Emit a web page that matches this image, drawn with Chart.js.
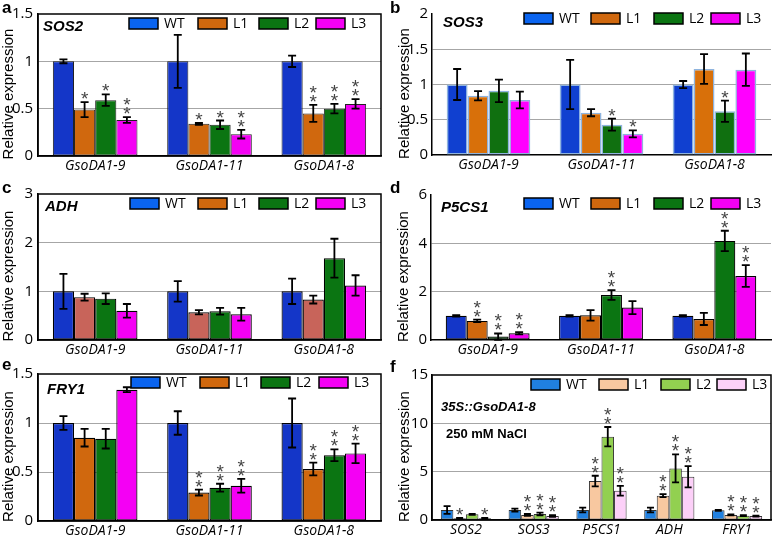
<!DOCTYPE html>
<html>
<head>
<meta charset="utf-8">
<script src="https://cdn.jsdelivr.net/npm/chart.js@4.4.1/dist/chart.umd.min.js"></script>
<style>
  body { margin: 0; background: #fff; }
  #fig { position: relative; width: 778px; height: 537px; overflow: hidden; }
  canvas { position: absolute; }
</style>
</head>
<body>
<div id="fig">
  <canvas id="pa"></canvas>
  <canvas id="pb"></canvas>
  <canvas id="pc"></canvas>
  <canvas id="pd"></canvas>
  <canvas id="pe"></canvas>
  <canvas id="pf"></canvas>
</div>
<script>
const lines = ['WT', 'L1', 'L2', 'L3'];
const transgenics = ['GsoDA1-9', 'GsoDA1-11', 'GsoDA1-8'];
const saltGenes = ['SOS2', 'SOS3', 'P5CS1', 'ADH', 'FRY1'];

// rows: WT, L1, L2, L3 -- columns: categories
const sos2Mean = [[1.00, 1.00, 1.00], [0.49, 0.34, 0.45], [0.59, 0.33, 0.50], [0.38, 0.23, 0.55]];
const sos2Err = [[0.02, 0.28, 0.06], [0.08, 0.01, 0.09], [0.06, 0.045, 0.05], [0.03, 0.045, 0.05]];
const sos2Stars = [[0, 0, 0], [1, 1, 2], [1, 1, 2], [2, 2, 2]];

const sos3Mean = [[1.00, 1.00, 1.00], [0.84, 0.60, 1.22], [0.91, 0.43, 0.62], [0.78, 0.30, 1.21]];
const sos3Err = [[0.22, 0.35, 0.05], [0.065, 0.05, 0.21], [0.16, 0.085, 0.15], [0.12, 0.05, 0.23]];
const sos3Stars = [[0, 0, 0], [0, 0, 0], [0, 1, 1], [0, 1, 0]];

const adhMean = [[1.00, 1.00, 1.00], [0.88, 0.57, 0.83], [0.85, 0.59, 1.68], [0.60, 0.53, 1.12]];
const adhErr = [[0.36, 0.21, 0.26], [0.07, 0.045, 0.08], [0.11, 0.07, 0.40], [0.14, 0.13, 0.21]];
const adhStars = [[0, 0, 0], [0, 0, 0], [0, 0, 0], [0, 0, 0]];

const p5cs1Mean = [[1.00, 1.00, 1.00], [0.79, 1.02, 0.87], [0.14, 1.86, 4.10], [0.28, 1.34, 2.65]];
const p5cs1Err = [[0.03, 0.03, 0.03], [0.05, 0.22, 0.25], [0.13, 0.20, 0.42], [0.05, 0.27, 0.45]];
const p5cs1Stars = [[0, 0, 0], [2, 0, 0], [2, 2, 2], [2, 0, 2]];

const fry1Mean = [[1.00, 1.00, 1.00], [0.85, 0.29, 0.53], [0.84, 0.34, 0.67], [1.34, 0.36, 0.69]];
const fry1Err = [[0.07, 0.12, 0.25], [0.09, 0.03, 0.065], [0.10, 0.04, 0.06], [0.025, 0.07, 0.10]];
const fry1Stars = [[0, 0, 0], [0, 2, 2], [0, 2, 2], [0, 2, 2]];

const saltMean = [[1.03, 1.03, 1.03, 1.03, 1.00], [0.17, 0.52, 4.03, 2.52, 0.52], [0.59, 0.62, 8.62, 5.34, 0.45], [0.17, 0.41, 3.03, 4.48, 0.41]];
const saltErr = [[0.40, 0.15, 0.25, 0.25, 0.05], [0.05, 0.10, 0.55, 0.15, 0.05], [0.05, 0.15, 1.00, 1.45, 0.05], [0.05, 0.08, 0.50, 1.10, 0.05]];
const saltStars = [[0, 0, 0, 0, 0], [1, 2, 2, 2, 2], [0, 2, 2, 2, 2], [1, 2, 2, 2, 2]];

const FONT = "'Open Sans', sans-serif";
const ARIAL = "'Liberation Sans', Arial, sans-serif";

// draws error bars, asterisks, frame, legend, titles
const decorations = {
  id: 'decorations',
  afterDatasetsDraw(chart, args, o) {
    const ctx = chart.ctx, y = chart.scales.y;
    ctx.save();
    ctx.strokeStyle = '#000';
    ctx.lineWidth = 1.8;
    chart.data.datasets.forEach((ds, i) => {
      chart.getDatasetMeta(i).data.forEach((bar, j) => {
        const v = ds.data[j], e = o.err[i][j];
        const top = y.getPixelForValue(v + e);
        const bot = y.getPixelForValue(Math.max(v - e, 0));
        const c = o.cap;
        ctx.beginPath();
        ctx.moveTo(bar.x, top); ctx.lineTo(bar.x, bot);
        ctx.moveTo(bar.x - c, top); ctx.lineTo(bar.x + c, top);
        ctx.moveTo(bar.x - c, bot); ctx.lineTo(bar.x + c, bot);
        ctx.stroke();
        ctx.fillStyle = '#444';
        ctx.font = '19px ' + ARIAL;
        ctx.textAlign = 'center';
        ctx.textBaseline = 'alphabetic';
        for (let k = 0; k < o.stars[i][j]; k++) {
          ctx.fillText('*', bar.x, top - 8 - k * 9 + 11);
        }
      });
    });
    ctx.restore();
  },
  afterDraw(chart, args, o) {
    const ctx = chart.ctx, a = chart.chartArea;
    ctx.save();
    // frame
    ctx.strokeStyle = '#000';
    ctx.lineWidth = 1.5;
    if (o.fullFrame) {
      ctx.strokeRect(a.left, a.top, a.right - a.left, a.bottom - a.top);
    }
    // legend
    o.legend.x.forEach((dx, i) => {
      const bx = a.left + dx, by = a.top + o.legend.y;
      ctx.fillStyle = o.legend.colors[i];
      ctx.fillRect(bx, by, 29, 11);
      ctx.lineWidth = 1.5;
      ctx.strokeStyle = '#000';
      ctx.strokeRect(bx, by, 29, 11);
      ctx.fillStyle = '#000';
      ctx.font = '14px ' + FONT;
      ctx.textAlign = 'left';
      ctx.textBaseline = 'middle';
      ctx.fillText(lines[i], bx + 35, by + 6);
    });
    // gene titles
    o.titles.forEach(t => {
      ctx.fillStyle = '#000';
      ctx.font = t.font;
      ctx.textAlign = 'left';
      ctx.textBaseline = 'middle';
      ctx.fillText(t.text, a.left + t.x, a.top + t.y);
    });
    // y axis title
    ctx.save();
    ctx.translate(o.yTitleX, (a.top + a.bottom) / 2 + 9);
    ctx.rotate(-Math.PI / 2);
    ctx.font = '15px ' + ARIAL;
    ctx.textAlign = 'center';
    ctx.textBaseline = 'middle';
    ctx.fillStyle = '#000';
    ctx.fillText('Relative expression', 0, 0);
    ctx.restore();
    // panel letter
    ctx.font = 'bold 17px ' + ARIAL;
    ctx.textAlign = 'left';
    ctx.textBaseline = 'alphabetic';
    ctx.fillStyle = '#000';
    ctx.fillText(o.letter, 2, o.letterY);
    ctx.restore();
  }
};

function makePanel(id, p) {
  const el = document.getElementById(id);
  el.width = p.box.w; el.height = p.box.h;
  el.style.left = p.box.left + 'px';
  el.style.top = p.box.top + 'px';
  const area = {
    left: p.area.l - p.box.left, right: p.area.r - p.box.left,
    top: p.area.t - p.box.top, bottom: p.area.b - p.box.top
  };
  new Chart(el, {
    type: 'bar',
    data: {
      labels: p.labels,
      datasets: lines.map((name, i) => ({
        label: name,
        data: p.mean[i],
        backgroundColor: p.colors[i],
        borderColor: p.edge,
        borderWidth: p.edgeWidth,
        borderSkipped: false,
        barPercentage: 1,
        categoryPercentage: 0.74
      }))
    },
    options: {
      responsive: false,
      animation: false,
      layout: { padding: { left: 0, top: area.top, right: p.box.w - area.right, bottom: 0 } },
      plugins: {
        legend: { display: false },
        tooltip: { enabled: false },
        decorations: {
          err: p.err, stars: p.stars, cap: p.cap,
          fullFrame: p.fullFrame,
          legend: { x: p.legendX, y: p.legendY, colors: p.legendColors },
          titles: p.titles,
          yTitleX: p.yTitleX,
          letter: p.letter, letterY: p.letterY
        }
      },
      scales: {
        x: {
          grid: { display: false, drawTicks: false },
          border: { display: true, color: '#000', width: 1.5 },
          ticks: { color: '#000', padding: 2, font: { family: FONT, style: 'italic', size: 14 } },
          afterFit: s => { s.height = p.box.h - area.bottom; }
        },
        y: {
          min: 0, max: p.max,
          grid: {
            drawTicks: false,
            color: c => (c.tick.value > 0 && c.tick.value < p.max) ? '#a6a6a6' : 'rgba(0,0,0,0)',
            lineWidth: 1
          },
          border: { display: true, color: '#000', width: 1.5 },
          ticks: {
            stepSize: p.step, color: '#000', padding: p.tickPad,
            font: { family: FONT, size: 15 },
            callback: v => String(+v.toFixed(2))
          },
          afterFit: s => { s.width = area.left; }
        }
      }
    },
    plugins: [decorations]
  });
}

const strong = ['#1436c8', '#d0680e', '#0b7512', '#f400f4'];
const strongLegend = ['#0a64f0', '#d0680e', '#0b7512', '#f400f4'];

makePanel('pa', {
  box: { left: 0, top: 0, w: 388, h: 180 }, area: { l: 38, r: 381, t: 10, b: 156 },
  labels: transgenics, mean: sos2Mean, err: sos2Err, stars: sos2Stars, max: 1.5, step: 0.5,
  colors: strong, edge: '#222', edgeWidth: 1, cap: 4, fullFrame: true, tickPad: 5,
  legendX: [91, 160, 221, 278], legendY: 4, legendColors: strongLegend,
  titles: [{ text: 'SOS2', x: 5, y: 13, font: 'italic bold 15px ' + ARIAL }],
  yTitleX: 9, letter: 'a', letterY: 13
});

makePanel('pb', {
  box: { left: 388, top: 0, w: 390, h: 180 }, area: { l: 432, r: 771, t: 14, b: 155 },
  labels: transgenics, mean: sos3Mean, err: sos3Err, stars: sos3Stars, max: 2, step: 0.5,
  colors: ['#1040d0', '#d8700a', '#107010', '#ff00ff'], edge: '#8fb4de', edgeWidth: 1.5, cap: 4, fullFrame: false, tickPad: 4,
  legendX: [92, 159, 222, 279], legendY: -1, legendColors: strongLegend,
  titles: [{ text: 'SOS3', x: 11, y: 9, font: 'italic bold 15px ' + ARIAL }],
  yTitleX: 17, letter: 'b', letterY: 13
});

makePanel('pc', {
  box: { left: 0, top: 176, w: 388, h: 184 }, area: { l: 38, r: 381, t: 194, b: 340 },
  labels: transgenics, mean: adhMean, err: adhErr, stars: adhStars, max: 3, step: 1,
  colors: ['#1436c8', '#c8645a', '#0b7512', '#f400f4'], edge: '#000', edgeWidth: 1.2, cap: 4, fullFrame: true, tickPad: 5,
  legendX: [92, 160, 221, 278], legendY: 4, legendColors: strongLegend,
  titles: [{ text: 'ADH', x: 7, y: 13, font: 'italic bold 15px ' + ARIAL }],
  yTitleX: 9, letter: 'c', letterY: 17
});

makePanel('pd', {
  box: { left: 388, top: 176, w: 390, h: 184 }, area: { l: 431, r: 771, t: 195, b: 340 },
  labels: transgenics, mean: p5cs1Mean, err: p5cs1Err, stars: p5cs1Stars, max: 6, step: 2,
  colors: strong, edge: '#000', edgeWidth: 1.2, cap: 4, fullFrame: false, tickPad: 4,
  legendX: [93, 160, 223, 280], legendY: 3, legendColors: strongLegend,
  titles: [{ text: 'P5CS1', x: 10, y: 13, font: 'italic bold 15px ' + ARIAL }],
  yTitleX: 16, letter: 'd', letterY: 17
});

makePanel('pe', {
  box: { left: 0, top: 356, w: 388, h: 181 }, area: { l: 38, r: 381, t: 374, b: 521 },
  labels: transgenics, mean: fry1Mean, err: fry1Err, stars: fry1Stars, max: 1.5, step: 0.5,
  colors: strong, edge: '#000', edgeWidth: 1.2, cap: 4, fullFrame: true, tickPad: 5,
  legendX: [93, 162, 223, 281], legendY: 3, legendColors: strongLegend,
  titles: [{ text: 'FRY1', x: 9, y: 16, font: 'italic bold 15px ' + ARIAL }],
  yTitleX: 9, letter: 'e', letterY: 14
});

makePanel('pf', {
  box: { left: 388, top: 356, w: 390, h: 181 }, area: { l: 432, r: 771, t: 375, b: 520 },
  labels: saltGenes, mean: saltMean, err: saltErr, stars: saltStars, max: 15, step: 5,
  colors: ['#2080e0', '#f8c8a0', '#92d050', '#fcd0f8'], edge: '#333', edgeWidth: 1, cap: 3.5, fullFrame: true, tickPad: 4,
  legendX: [99, 167, 229, 285], legendY: 4, legendColors: ['#2080e0', '#f8c8a0', '#92d050', '#fcd0f8'],
  titles: [
    { text: '35S::GsoDA1-8', x: 9, y: 32, font: 'italic bold 13px ' + ARIAL },
    { text: '250 mM NaCl', x: 14, y: 59, font: 'bold 13px ' + ARIAL }
  ],
  yTitleX: 17, letter: 'f', letterY: 16
});
</script>
</body>
</html>
